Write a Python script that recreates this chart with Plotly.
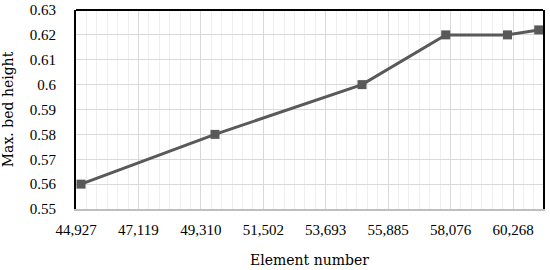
import plotly.graph_objects as go

element_number = [45103, 49806, 54967, 57905, 60074, 61170]
max_bed_height = [0.56, 0.58, 0.60, 0.62, 0.62, 0.622]

x_tick_vals = [44927, 47118.5, 49310, 51501.5, 53693, 55884.5, 58076, 60267.5]
x_tick_text = ["44,927", "47,119", "49,310", "51,502", "53,693", "55,885", "58,076", "60,268"]
y_tick_vals = [0.55, 0.56, 0.57, 0.58, 0.59, 0.60, 0.61, 0.62, 0.63]
y_tick_text = ["0.55", "0.56", "0.57", "0.58", "0.59", "0.6", "0.61", "0.62", "0.63"]

tick_font = dict(family="Liberation Serif, serif", size=15, color="#000000")
title_font = dict(family="DejaVu Serif, serif", size=14, color="#000000")

fig = go.Figure()
fig.add_trace(go.Scatter(
    x=element_number, y=max_bed_height, mode="lines+markers",
    line=dict(color="#595959", width=3),
    marker=dict(symbol="square", size=9, color="#595959"),
    cliponaxis=False, showlegend=False, hoverinfo="skip",
))

fig.update_layout(
    width=550, height=270,
    margin=dict(l=76, r=7, t=10, b=61, autoexpand=False),
    paper_bgcolor="white", plot_bgcolor="white",
    font=tick_font,
    xaxis=dict(
        range=[44927, 61320],
        tickmode="array", tickvals=x_tick_vals, ticktext=x_tick_text,
        tickfont=tick_font,
        showgrid=True, gridcolor="#d9d9d9", gridwidth=1,
        minor=dict(dtick=365.25, tick0=44927, showgrid=True, gridcolor="#efefef", gridwidth=1),
        showline=True, linecolor="#bfbfbf", linewidth=1.5,
        ticks="", ticklabelstandoff=6,
        zeroline=False, automargin=False,
        title=dict(text="Element number", font=title_font, standoff=18),
    ),
    yaxis=dict(
        range=[0.55, 0.63],
        tickmode="array", tickvals=y_tick_vals, ticktext=y_tick_text,
        tickfont=tick_font,
        showgrid=True, gridcolor="#d9d9d9", gridwidth=1,
        showline=True, linecolor="#000000", linewidth=2, mirror=True,
        ticks="", ticklabelstandoff=15,
        zeroline=False, automargin=False,
        title=dict(text="Max. bed height", font=title_font, standoff=20),
    ),
    shapes=[dict(type="line", xref="paper", yref="paper", x0=0, x1=1, y0=1, y1=1,
                 line=dict(color="#000000", width=2))],
)

fig.write_html("out.html", config={"displayModeBar": False, "staticPlot": True},
               post_script="document.body.style.margin='0';")
